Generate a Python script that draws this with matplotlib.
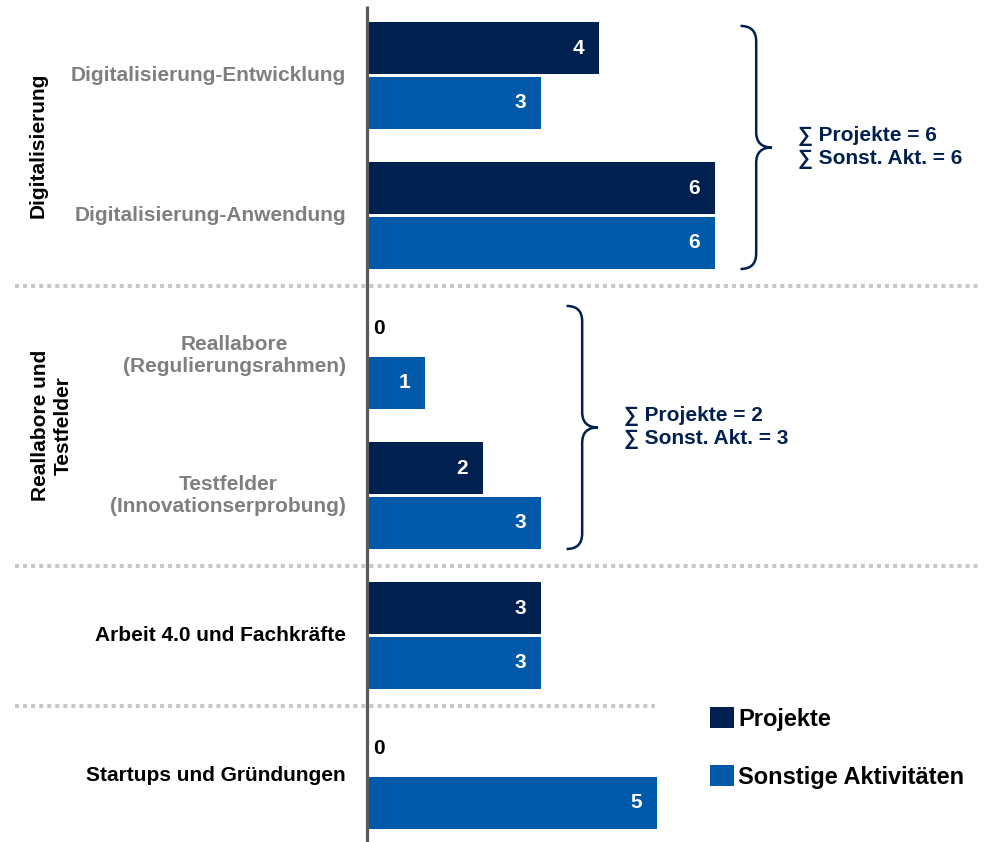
import matplotlib
matplotlib.use("Agg")
import matplotlib.pyplot as plt
from matplotlib.path import Path
from matplotlib.patches import PathPatch

plt.rcParams['font.family'] = ['Liberation Sans', 'DejaVu Sans']
plt.rcParams['font.weight'] = 'bold'

# one row per sub-topic, top to bottom
labels = [
    "Digitalisierung-Entwicklung",
    "Digitalisierung-Anwendung",
    "Reallabore\n(Regulierungsrahmen)",
    "Testfelder\n(Innovationserprobung)",
    "Arbeit 4.0 und Fachkräfte",
    "Startups und Gründungen",
]
label_colors = ["#7f7f7f", "#7f7f7f", "#7f7f7f", "#7f7f7f", "black", "black"]
projekte = [4, 6, 0, 2, 3, 0]
sonstige = [3, 6, 1, 3, 3, 5]

groups = ["Digitalisierung", "Reallabore und\nTestfelder"]
group_rows = [(0, 1), (2, 3)]
# distinct totals per group (items can belong to several sub-topics)
group_projekte = [6, 2]
group_sonstige = [6, 3]
series_names = ["Projekte", "Sonstige Aktivitäten"]

DARK = "#002050"
LIGHT = "#005aa9"
GRID = "#c8c8c8"

fig = plt.figure(figsize=(9.89, 8.42), dpi=100)
ax = fig.add_axes([0, 0, 1, 1])
ax.axis("off")
ax.set_xlim(-367 / 58, (989 - 367) / 58)
ax.set_ylim((842 - 75.5) / 140, -75.5 / 140)

rows = list(range(len(labels)))
off = 0.196
h = 0.371
b1 = ax.barh([r - off for r in rows], projekte, height=h, color=DARK)
b2 = ax.barh([r + off for r in rows], sonstige, height=h, color=LIGHT)

for r, v in zip(rows, projekte):
    if v:
        ax.text(v - 0.36, r - off, str(v), color="white", fontsize=15, ha="center", va="center")
    else:
        ax.text(0.1, r - off, "0", color="black", fontsize=15, ha="left", va="center")
for r, v in zip(rows, sonstige):
    ax.text(v - 0.36, r + off, str(v), color="white", fontsize=15, ha="center", va="center")

# category labels
for r, (lab, c) in enumerate(zip(labels, label_colors)):
    ax.text(-0.36, r, lab, color=c, fontsize=15, ha="right", va="center",
            multialignment="center", linespacing=1.25)

# rotated group labels
ax.text(-5.67, 0.5, groups[0], rotation=90, fontsize=15, ha="center", va="center")
ax.text(-5.43, 2.5, groups[1], rotation=90, fontsize=15, ha="center", va="center",
        multialignment="center", linespacing=1.25)

# zero line
ax.plot([0, 0], [-0.496, 6], color="#5a5a5a", lw=2.3, solid_capstyle="butt", zorder=1)

# dotted separators between groups
for y, x1 in [(1.5, 10.57), (3.5, 10.57), (4.5, 4.97)]:
    ax.plot([-6.07, x1], [y, y], color=GRID, lw=2.9, ls=(0, (1, 1)),
            dash_capstyle="butt", zorder=3)


def brace(x0, y0, y1, w=0.54, r=0.11):
    xv = x0 + w / 2
    xt = x0 + w
    ym = (y0 + y1) / 2
    verts = [(x0, y0), (xv, y0), (xv, y0 + r), (xv, ym - r), (xv, ym), (xt, ym),
             (xv, ym), (xv, ym + r), (xv, y1 - r), (xv, y1), (x0, y1)]
    codes = [Path.MOVETO, Path.CURVE3, Path.CURVE3, Path.LINETO, Path.CURVE3, Path.CURVE3,
             Path.CURVE3, Path.CURVE3, Path.LINETO, Path.CURVE3, Path.CURVE3]
    ax.add_patch(PathPatch(Path(verts, codes), fill=False, ec=DARK, lw=1.8))
    return xt, ym


for (a, b), sp, ss in zip(group_rows, group_projekte, group_sonstige):
    top = a - 0.354
    bot = b + 0.382
    x0 = max(projekte[a:b + 1] + sonstige[a:b + 1]) + 0.44
    xt, ym = brace(x0, top, bot)
    ax.text(xt + 0.45, ym, f"∑ Projekte = {sp}\n∑ Sonst. Akt. = {ss}", color=DARK,
            fontsize=15, ha="left", va="center", linespacing=1.2)

ax.legend([b1, b2], series_names, loc="upper left", bbox_to_anchor=(710 / 989, 1 - 707 / 842),
          frameon=False, handlelength=1.0, handleheight=1.0,
          handletextpad=0.2, labelspacing=1.47, borderpad=0, borderaxespad=0,
          prop={"weight": "bold", "size": 17})

fig.savefig("out.png", dpi=100)
